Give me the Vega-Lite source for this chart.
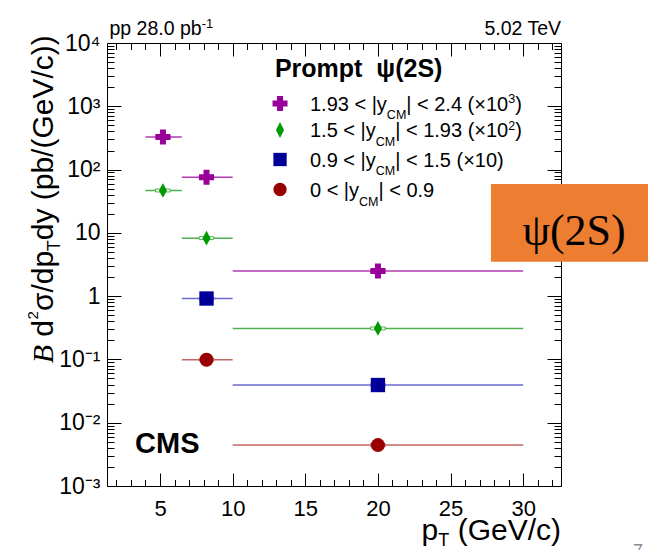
{
  "$schema": "https://vega.github.io/schema/vega-lite/v6.json",
  "width": 454,
  "height": 443,
  "autosize": {"type": "none"},
  "padding": {"left": 107, "top": 43, "right": 87, "bottom": 64},
  "background": "white",
  "config": {
    "font": "Liberation Sans",
    "view": {"stroke": "black", "strokeWidth": 1}
  },
  "data": {"values": [{}]},
  "datasets": {
    "xsec": [
      {"rapidity": "1.93-2.4", "pt": 5.2, "ptLow": 4, "ptHigh": 6.5, "value": 327},
      {"rapidity": "1.93-2.4", "pt": 8.2, "ptLow": 6.5, "ptHigh": 10, "value": 75.6},
      {"rapidity": "1.93-2.4", "pt": 20, "ptLow": 10, "ptHigh": 30, "value": 2.5},
      {"rapidity": "1.5-1.93", "pt": 5.2, "ptLow": 4, "ptHigh": 6.5, "value": 46.7},
      {"rapidity": "1.5-1.93", "pt": 8.2, "ptLow": 6.5, "ptHigh": 10, "value": 8.25},
      {"rapidity": "1.5-1.93", "pt": 20, "ptLow": 10, "ptHigh": 30, "value": 0.309},
      {"rapidity": "0.9-1.5", "pt": 8.2, "ptLow": 6.5, "ptHigh": 10, "value": 0.917},
      {"rapidity": "0.9-1.5", "pt": 20, "ptLow": 10, "ptHigh": 30, "value": 0.0394},
      {"rapidity": "0-0.9", "pt": 8.2, "ptLow": 6.5, "ptHigh": 10, "value": 0.099},
      {"rapidity": "0-0.9", "pt": 20, "ptLow": 10, "ptHigh": 30, "value": 0.00443}
    ]
  },
  "layer": [
    {
      "data": {"name": "xsec"},
      "mark": {"type": "rule", "strokeWidth": 1.5},
      "encoding": {
        "x": {
          "field": "ptLow", "type": "quantitative",
          "scale": {"domain": [1.35, 32.6], "zero": false, "nice": false},
          "axis": {
            "orient": "bottom", "title": null, "values": [5, 10, 15, 20, 25, 30],
            "tickSize": -13, "tickColor": "black", "tickWidth": 1,
            "domain": false, "grid": false,
            "labelFont": "Liberation Sans", "labelFontSize": 22, "labelColor": "black",
            "labelPadding": 25, "labelFlush": false, "labelOverlap": false
          }
        },
        "x2": {"field": "ptHigh"},
        "y": {
          "field": "value", "type": "quantitative",
          "scale": {"type": "log", "domain": [0.001, 10000], "nice": false},
          "axis": {
            "orient": "left", "title": null,
            "values": [0.001, 0.01, 0.1, 1, 10, 100, 1000, 10000],
            "tickSize": -14, "tickColor": "black", "tickWidth": 1,
            "domain": false, "grid": false,
            "labelFont": "Liberation Sans", "labelFontSize": 23, "labelColor": "black",
            "labelPadding": 21, "labelOverlap": false,
            "labelExpr": "datum.value >= 9999 ? '10⁴' : datum.value >= 999 ? '10³' : datum.value >= 99 ? '10²' : datum.value >= 9 ? '10' : datum.value >= 0.9 ? '1' : datum.value >= 0.09 ? '10⁻¹' : datum.value >= 0.009 ? '10⁻²' : '10⁻³'"
          }
        },
        "stroke": {
          "field": "rapidity", "type": "nominal", "legend": null,
          "scale": {"domain": ["1.93-2.4", "1.5-1.93", "0.9-1.5", "0-0.9"],
                    "range": ["#B13DB1", "#4DB04D", "#6A6AD0", "#C26666"]}
        }
      }
    },
    {
      "data": {"name": "xsec"},
      "mark": {"type": "point", "opacity": 0},
      "encoding": {
        "x": {
          "field": "pt", "type": "quantitative",
          "axis": {"orient": "bottom", "title": null, "labels": false, "domain": false, "grid": false,
                   "tickSize": -6.5, "tickColor": "black", "tickWidth": 1,
                   "values": [2, 3, 4, 6, 7, 8, 9, 11, 12, 13, 14, 16, 17, 18, 19, 21, 22, 23, 24, 26, 27, 28, 29, 31, 32]}
        },
        "y": {
          "field": "value", "type": "quantitative",
          "axis": {"orient": "left", "title": null, "labels": false, "domain": false, "grid": false,
                   "tickSize": -7, "tickColor": "black", "tickWidth": 1,
                   "values": [0.002, 0.003, 0.004, 0.005, 0.006, 0.007, 0.008, 0.009, 0.02, 0.03, 0.04, 0.05, 0.06, 0.07, 0.08, 0.09, 0.2, 0.3, 0.4, 0.5, 0.6, 0.7, 0.8, 0.9, 2, 3, 4, 5, 6, 7, 8, 9, 20, 30, 40, 50, 60, 70, 80, 90, 200, 300, 400, 500, 600, 700, 800, 900, 2000, 3000, 4000, 5000, 6000, 7000, 8000, 9000]}
        }
      }
    },
    {
      "data": {"name": "xsec"},
      "mark": {"type": "point", "opacity": 0},
      "encoding": {
        "x": {
          "field": "pt", "type": "quantitative",
          "axis": {"orient": "top", "title": null, "labels": false, "domain": false, "grid": false,
                   "tickSize": -13, "tickColor": "black", "tickWidth": 1,
                   "values": [5, 10, 15, 20, 25, 30]}
        },
        "y": {
          "field": "value", "type": "quantitative",
          "axis": {"orient": "right", "title": null, "labels": false, "domain": false, "grid": false,
                   "tickSize": -14, "tickColor": "black", "tickWidth": 1,
                   "values": [0.001, 0.01, 0.1, 1, 10, 100, 1000, 10000]}
        }
      }
    },
    {
      "data": {"name": "xsec"},
      "mark": {"type": "point", "opacity": 0},
      "encoding": {
        "x": {
          "field": "pt", "type": "quantitative",
          "axis": {"orient": "top", "title": null, "labels": false, "domain": false, "grid": false,
                   "tickSize": -6.5, "tickColor": "black", "tickWidth": 1,
                   "values": [2, 3, 4, 6, 7, 8, 9, 11, 12, 13, 14, 16, 17, 18, 19, 21, 22, 23, 24, 26, 27, 28, 29, 31, 32]}
        },
        "y": {
          "field": "value", "type": "quantitative",
          "axis": {"orient": "right", "title": null, "labels": false, "domain": false, "grid": false,
                   "tickSize": -7, "tickColor": "black", "tickWidth": 1,
                   "values": [0.002, 0.003, 0.004, 0.005, 0.006, 0.007, 0.008, 0.009, 0.02, 0.03, 0.04, 0.05, 0.06, 0.07, 0.08, 0.09, 0.2, 0.3, 0.4, 0.5, 0.6, 0.7, 0.8, 0.9, 2, 3, 4, 5, 6, 7, 8, 9, 20, 30, 40, 50, 60, 70, 80, 90, 200, 300, 400, 500, 600, 700, 800, 900, 2000, 3000, 4000, 5000, 6000, 7000, 8000, 9000]}
        }
      }
    },
    {
      "data": {"name": "xsec"},
      "mark": {"type": "point", "shape": "M-1,-0.2L1,-0.2L1,0.2L-1,0.2Z", "size": 213,
               "filled": true, "fill": "white", "strokeWidth": 1, "opacity": 1},
      "encoding": {
        "x": {"field": "pt", "type": "quantitative", "axis": null},
        "y": {"field": "value", "type": "quantitative", "axis": null},
        "stroke": {"field": "rapidity", "type": "nominal", "legend": null}
      }
    },
    {
      "data": {"name": "xsec"},
      "mark": {"type": "point", "filled": true, "opacity": 1, "strokeWidth": 0},
      "encoding": {
        "x": {"field": "pt", "type": "quantitative", "axis": null},
        "y": {"field": "value", "type": "quantitative", "axis": null},
        "fill": {
          "field": "rapidity", "type": "nominal", "legend": null,
          "scale": {"domain": ["1.93-2.4", "1.5-1.93", "0.9-1.5", "0-0.9"],
                    "range": ["#990099", "#009900", "#000099", "#990000"]}
        },
        "shape": {
          "field": "rapidity", "type": "nominal", "legend": null,
          "scale": {"domain": ["1.93-2.4", "1.5-1.93", "0.9-1.5", "0-0.9"],
                    "range": ["cross", "M0,-1L0.55,0L0,1L-0.55,0Z", "square", "circle"]}
        },
        "size": {
          "field": "rapidity", "type": "ordinal", "legend": null,
          "scale": {"domain": ["1.93-2.4", "1.5-1.93", "0.9-1.5", "0-0.9"],
                    "range": [225, 196, 169, 156]}
        }
      }
    },
    {
      "mark": {"type": "point", "shape": "cross", "size": 225, "filled": true, "fill": "#990099", "strokeWidth": 0, "opacity": 1},
      "encoding": {"x": {"datum": 13.26, "type": "quantitative", "axis": null}, "y": {"datum": 1107, "type": "quantitative", "axis": null}}
    },
    {
      "mark": {"type": "point", "shape": "M0,-1L0.5,0L0,1L-0.5,0Z", "size": 256, "filled": true, "fill": "#009900", "strokeWidth": 0, "opacity": 1},
      "encoding": {"x": {"datum": 13.26, "type": "quantitative", "axis": null}, "y": {"datum": 422, "type": "quantitative", "axis": null}}
    },
    {
      "mark": {"type": "point", "shape": "square", "size": 177, "filled": true, "fill": "#000099", "strokeWidth": 0, "opacity": 1},
      "encoding": {"x": {"datum": 13.26, "type": "quantitative", "axis": null}, "y": {"datum": 144.3, "type": "quantitative", "axis": null}}
    },
    {
      "mark": {"type": "point", "shape": "circle", "size": 177, "filled": true, "fill": "#990000", "strokeWidth": 0, "opacity": 1},
      "encoding": {"x": {"datum": 13.26, "type": "quantitative", "axis": null}, "y": {"datum": 48.4, "type": "quantitative", "axis": null}}
    },
    {
      "mark": {"type": "text", "text": "Prompt\u00a0 ψ(2S)", "align": "left", "baseline": "alphabetic", "fontSize": 25, "fontWeight": "bold", "color": "black"},
      "encoding": {"x": {"datum": 12.91, "type": "quantitative", "axis": null}, "y": {"datum": 2902, "type": "quantitative", "axis": null}}
    },
    {
      "mark": {"type": "text", "text": "1.93 < |y", "align": "left", "baseline": "alphabetic", "fontSize": 20, "dy": 7.5, "color": "black"},
      "encoding": {"x": {"datum": 15.32, "type": "quantitative", "axis": null}, "y": {"datum": 1107, "type": "quantitative", "axis": null}}
    },
    {
      "mark": {"type": "text", "text": "CM", "align": "left", "baseline": "alphabetic", "fontSize": 12.5, "dx": 76.9, "dy": 16, "color": "black"},
      "encoding": {"x": {"datum": 15.32, "type": "quantitative", "axis": null}, "y": {"datum": 1107, "type": "quantitative", "axis": null}}
    },
    {
      "mark": {"type": "text", "text": "| < 2.4 (×10", "align": "left", "baseline": "alphabetic", "fontSize": 20, "dx": 96.3, "dy": 7.5, "color": "black"},
      "encoding": {"x": {"datum": 15.32, "type": "quantitative", "axis": null}, "y": {"datum": 1107, "type": "quantitative", "axis": null}}
    },
    {
      "mark": {"type": "text", "text": "3", "align": "left", "baseline": "alphabetic", "fontSize": 12.5, "dx": 198.2, "dy": 0, "color": "black"},
      "encoding": {"x": {"datum": 15.32, "type": "quantitative", "axis": null}, "y": {"datum": 1107, "type": "quantitative", "axis": null}}
    },
    {
      "mark": {"type": "text", "text": ")", "align": "left", "baseline": "alphabetic", "fontSize": 20, "dx": 205.2, "dy": 7.5, "color": "black"},
      "encoding": {"x": {"datum": 15.32, "type": "quantitative", "axis": null}, "y": {"datum": 1107, "type": "quantitative", "axis": null}}
    },
    {
      "mark": {"type": "text", "text": "1.5 < |y", "align": "left", "baseline": "alphabetic", "fontSize": 20, "dy": 7.5, "color": "black"},
      "encoding": {"x": {"datum": 15.32, "type": "quantitative", "axis": null}, "y": {"datum": 422, "type": "quantitative", "axis": null}}
    },
    {
      "mark": {"type": "text", "text": "CM", "align": "left", "baseline": "alphabetic", "fontSize": 12.5, "dx": 65.8, "dy": 16, "color": "black"},
      "encoding": {"x": {"datum": 15.32, "type": "quantitative", "axis": null}, "y": {"datum": 422, "type": "quantitative", "axis": null}}
    },
    {
      "mark": {"type": "text", "text": "| < 1.93 (×10", "align": "left", "baseline": "alphabetic", "fontSize": 20, "dx": 85.2, "dy": 7.5, "color": "black"},
      "encoding": {"x": {"datum": 15.32, "type": "quantitative", "axis": null}, "y": {"datum": 422, "type": "quantitative", "axis": null}}
    },
    {
      "mark": {"type": "text", "text": "2", "align": "left", "baseline": "alphabetic", "fontSize": 12.5, "dx": 198.3, "dy": 0, "color": "black"},
      "encoding": {"x": {"datum": 15.32, "type": "quantitative", "axis": null}, "y": {"datum": 422, "type": "quantitative", "axis": null}}
    },
    {
      "mark": {"type": "text", "text": ")", "align": "left", "baseline": "alphabetic", "fontSize": 20, "dx": 205.3, "dy": 7.5, "color": "black"},
      "encoding": {"x": {"datum": 15.32, "type": "quantitative", "axis": null}, "y": {"datum": 422, "type": "quantitative", "axis": null}}
    },
    {
      "mark": {"type": "text", "text": "0.9 < |y", "align": "left", "baseline": "alphabetic", "fontSize": 20, "dy": 7.5, "color": "black"},
      "encoding": {"x": {"datum": 15.32, "type": "quantitative", "axis": null}, "y": {"datum": 144.3, "type": "quantitative", "axis": null}}
    },
    {
      "mark": {"type": "text", "text": "CM", "align": "left", "baseline": "alphabetic", "fontSize": 12.5, "dx": 65.8, "dy": 16, "color": "black"},
      "encoding": {"x": {"datum": 15.32, "type": "quantitative", "axis": null}, "y": {"datum": 144.3, "type": "quantitative", "axis": null}}
    },
    {
      "mark": {"type": "text", "text": "| < 1.5 (×10)", "align": "left", "baseline": "alphabetic", "fontSize": 20, "dx": 85.2, "dy": 7.5, "color": "black"},
      "encoding": {"x": {"datum": 15.32, "type": "quantitative", "axis": null}, "y": {"datum": 144.3, "type": "quantitative", "axis": null}}
    },
    {
      "mark": {"type": "text", "text": "0 < |y", "align": "left", "baseline": "alphabetic", "fontSize": 20, "dy": 7.5, "color": "black"},
      "encoding": {"x": {"datum": 15.32, "type": "quantitative", "axis": null}, "y": {"datum": 48.4, "type": "quantitative", "axis": null}}
    },
    {
      "mark": {"type": "text", "text": "CM", "align": "left", "baseline": "alphabetic", "fontSize": 12.5, "dx": 49.1, "dy": 16, "color": "black"},
      "encoding": {"x": {"datum": 15.32, "type": "quantitative", "axis": null}, "y": {"datum": 48.4, "type": "quantitative", "axis": null}}
    },
    {
      "mark": {"type": "text", "text": "| < 0.9", "align": "left", "baseline": "alphabetic", "fontSize": 20, "dx": 68.5, "dy": 7.5, "color": "black"},
      "encoding": {"x": {"datum": 15.32, "type": "quantitative", "axis": null}, "y": {"datum": 48.4, "type": "quantitative", "axis": null}}
    },
    {
      "mark": {"type": "text", "text": "CMS", "align": "left", "baseline": "alphabetic", "fontSize": 29, "fontWeight": "bold", "color": "black"},
      "encoding": {"x": {"datum": 3.28, "type": "quantitative", "axis": null}, "y": {"datum": 0.003266, "type": "quantitative", "axis": null}}
    },
    {
      "mark": {"type": "text", "text": "pp 28.0 pb", "align": "left", "baseline": "alphabetic", "fontSize": 19.5, "color": "black"},
      "encoding": {"x": {"datum": 1.52, "type": "quantitative", "axis": null}, "y": {"datum": 13232, "type": "quantitative", "axis": null}}
    },
    {
      "mark": {"type": "text", "text": "-1", "align": "left", "baseline": "alphabetic", "fontSize": 13, "dx": 92.2, "dy": -7.5, "color": "black"},
      "encoding": {"x": {"datum": 1.52, "type": "quantitative", "axis": null}, "y": {"datum": 13232, "type": "quantitative", "axis": null}}
    },
    {
      "mark": {"type": "text", "text": "5.02 TeV", "align": "right", "baseline": "alphabetic", "fontSize": 19.5, "color": "black"},
      "encoding": {"x": {"datum": 32.6, "type": "quantitative", "axis": null}, "y": {"datum": 13232, "type": "quantitative", "axis": null}}
    },
    {
      "mark": {"type": "text", "text": "(GeV/c)", "align": "right", "baseline": "alphabetic", "fontSize": 30, "dy": 53.5, "color": "black"},
      "encoding": {"x": {"datum": 32.6, "type": "quantitative", "axis": null}, "y": {"datum": 0.001, "type": "quantitative", "axis": null}}
    },
    {
      "mark": {"type": "text", "text": "T", "align": "right", "baseline": "alphabetic", "fontSize": 18, "dx": -111.7, "dy": 59.5, "color": "black"},
      "encoding": {"x": {"datum": 32.6, "type": "quantitative", "axis": null}, "y": {"datum": 0.001, "type": "quantitative", "axis": null}}
    },
    {
      "mark": {"type": "text", "text": "p", "align": "right", "baseline": "alphabetic", "fontSize": 30, "dx": -122.7, "dy": 53.5, "color": "black"},
      "encoding": {"x": {"datum": 32.6, "type": "quantitative", "axis": null}, "y": {"datum": 0.001, "type": "quantitative", "axis": null}}
    },
    {
      "mark": {"type": "text", "text": "B", "angle": 270, "align": "left", "baseline": "alphabetic", "font": "Liberation Serif", "fontStyle": "italic", "fontSize": 30, "dx": 122.7, "dy": -54, "color": "black"},
      "encoding": {"x": {"datum": 1.35, "type": "quantitative", "axis": null}, "y": {"datum": 0.001, "type": "quantitative", "axis": null}}
    },
    {
      "mark": {"type": "text", "text": "d", "angle": 270, "align": "left", "baseline": "alphabetic", "fontSize": 30, "dx": 149.3, "dy": -54, "color": "black"},
      "encoding": {"x": {"datum": 1.35, "type": "quantitative", "axis": null}, "y": {"datum": 0.001, "type": "quantitative", "axis": null}}
    },
    {
      "mark": {"type": "text", "text": "2", "angle": 270, "align": "left", "baseline": "alphabetic", "fontSize": 15, "dx": 166.5, "dy": -69, "color": "black"},
      "encoding": {"x": {"datum": 1.35, "type": "quantitative", "axis": null}, "y": {"datum": 0.001, "type": "quantitative", "axis": null}}
    },
    {
      "mark": {"type": "text", "text": "σ/dp", "angle": 270, "align": "left", "baseline": "alphabetic", "fontSize": 30, "dx": 175, "dy": -54, "color": "black"},
      "encoding": {"x": {"datum": 1.35, "type": "quantitative", "axis": null}, "y": {"datum": 0.001, "type": "quantitative", "axis": null}}
    },
    {
      "mark": {"type": "text", "text": "T", "angle": 270, "align": "left", "baseline": "alphabetic", "fontSize": 18, "dx": 234.7, "dy": -47, "color": "black"},
      "encoding": {"x": {"datum": 1.35, "type": "quantitative", "axis": null}, "y": {"datum": 0.001, "type": "quantitative", "axis": null}}
    },
    {
      "mark": {"type": "text", "text": "dy (pb/(GeV/c))", "angle": 270, "align": "left", "baseline": "alphabetic", "fontSize": 30, "dx": 245.7, "dy": -54, "color": "black"},
      "encoding": {"x": {"datum": 1.35, "type": "quantitative", "axis": null}, "y": {"datum": 0.001, "type": "quantitative", "axis": null}}
    },
    {
      "mark": {"type": "rect", "fill": "#ED7D31", "opacity": 1},
      "encoding": {
        "x": {"datum": 27.78, "type": "quantitative", "axis": null},
        "x2": {"datum": 40},
        "y": {"datum": 59.2, "type": "quantitative", "axis": null},
        "y2": {"datum": 3.5}
      }
    },
    {
      "mark": {"type": "text", "text": "ψ(2S)", "align": "center", "baseline": "alphabetic", "font": "Liberation Serif", "fontSize": 44, "color": "black"},
      "encoding": {"x": {"datum": 33.5, "type": "quantitative", "axis": null}, "y": {"datum": 6.43, "type": "quantitative", "axis": null}}
    },
    {
      "mark": {"type": "text", "text": "7", "align": "center", "baseline": "alphabetic", "fontSize": 18, "color": "#8C8C8C"},
      "encoding": {"x": {"datum": 37.9, "type": "quantitative", "axis": null}, "y": {"datum": 0.0000757, "type": "quantitative", "axis": null}}
    }
  ],
  "resolve": {"axis": {"x": "independent", "y": "independent"}}
}
